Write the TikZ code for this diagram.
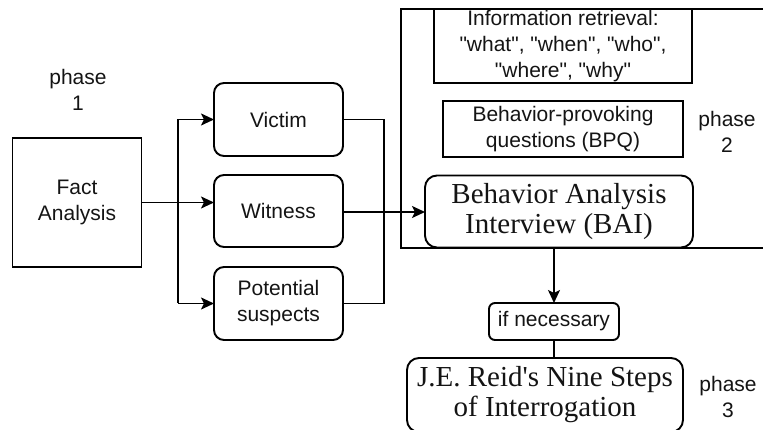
\documentclass[tikz,border=0pt]{standalone}
\usepackage{fontspec}
\newfontfamily\sansface{Liberation Sans}
\newfontfamily\serifface{Liberation Serif}
\usetikzlibrary{arrows.meta}
\begin{document}
\begin{tikzpicture}[x=1pt,y=-1pt,
  line width=1.9pt,
  every node/.style={inner sep=0pt,outer sep=0pt},
  sanstext/.style={font=\sansface\fontsize{21}{26}\selectfont,align=center,text=black!92},
  seriftext/.style={font=\serifface\fontsize{29}{30}\selectfont,align=center,text=black!92},
  squarebox/.style={draw,sanstext},
  roundbox/.style={draw,rounded corners=10pt,sanstext},
  bigbox/.style={draw,rounded corners=12pt,seriftext},
  label/.style={sanstext},
  flow/.style={-{Stealth[length=13pt,width=12pt,inset=3pt]}}]
\useasboundingbox (0,0) rectangle (763,430);

% phase 1
\node[label] (phaseone) at (78,90) {phase\\1};
\node[squarebox,minimum width=129pt,minimum height=129pt] (fact) at (77,202.5) {Fact\\Analysis};

\node[roundbox,minimum width=129pt,minimum height=73pt] (victim) at (278.5,119.5) {Victim};
\node[roundbox,minimum width=129pt,minimum height=72pt] (witness) at (278.5,211) {Witness};
\node[roundbox,minimum width=129pt,minimum height=73pt] (suspects) at (278.5,303.5) {Potential\\suspects};

\coordinate (busl) at (178,0);
\coordinate (busr) at (384,0);

% fan-out from the fact analysis
\draw[flow] (fact.east) -- (witness.west |- fact.east);
\draw[flow] (busl |- victim.west) -- (victim.west);
\draw (busl |- victim.west) -- (busl |- suspects.west);
\draw[flow] (busl |- suspects.west) -- (suspects.west);

% phase 2 frame
\coordinate (frametl) at (401,9);
\coordinate (framebl) at (401,248);
\draw (763,9) -- (frametl) -- (framebl) -- (763,248);

\node[squarebox,minimum width=258pt,minimum height=74pt] (info) at (563,46)
  {Information retrieval:\\"what", "when", "who",\\"where", "why"};
\node[squarebox,minimum width=240pt,minimum height=56pt] (bpq) at (563,129)
  {Behavior-provoking\\questions (BPQ)};
\node[label] (phasetwo) at (727,131.5) {phase\\2};
\node[bigbox,minimum width=268pt,minimum height=72pt] (bai) at (559,211.5)
  {Behavior Analysis\\Interview (BAI)};

% fan-in towards the interview
\draw (victim.east) -- (busr |- victim.east) -- (busr |- suspects.east) -- (suspects.east);
\draw[flow] (witness.east |- 0,212) -- (bai.west |- 0,212);

% phase 3
\node[draw,rounded corners=6pt,sanstext,minimum width=130pt,minimum height=37pt] (ifnec) at (554,321.5) {if necessary};
\node[bigbox,minimum width=276pt,minimum height=74pt] (reid) at (545,395)
  {J.E. Reid's Nine Steps\\of Interrogation};
\node[label] (phasethree) at (728,397) {phase\\3};

\draw[flow] (ifnec.north |- framebl) -- (ifnec.north);
\draw (ifnec.south) -- (ifnec.south |- reid.north);
\end{tikzpicture}
\end{document}
